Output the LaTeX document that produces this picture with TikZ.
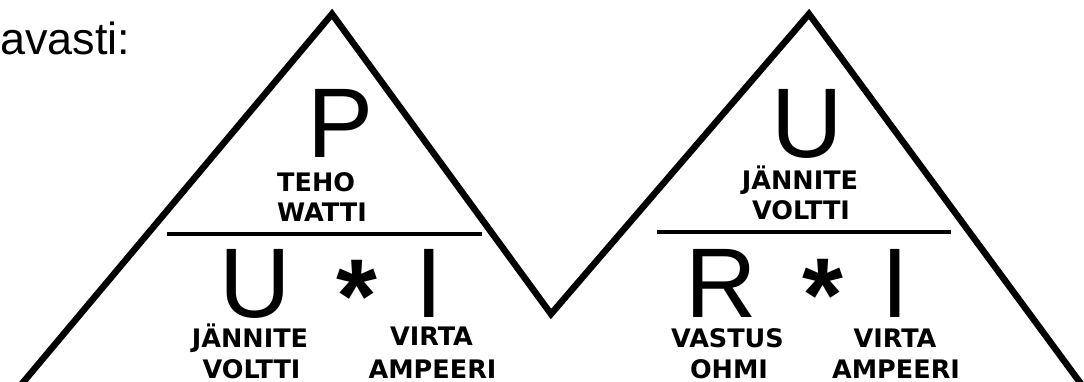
\documentclass[tikz,border=0pt]{standalone}
\usepackage{fontspec}
\setmainfont{Liberation Sans}
\newfontfamily\labfam{DejaVu Sans}
\begin{document}
\begin{tikzpicture}[x=1pt,y=-1pt,
  big/.style={font=\fontsize{99}{99}\selectfont, inner sep=0pt, anchor=base, text depth=0pt},
  star/.style={font=\bfseries\fontsize{105}{105}\selectfont, inner sep=0pt, anchor=base, text depth=0pt},
  lab/.style={font=\labfam\bfseries\fontsize{25.5}{30}\selectfont, inner sep=0pt, anchor=base, text depth=0pt, text height=18pt},
  zig/.style={line width=6.5pt, line join=miter, line cap=butt},
  bar/.style={line width=3.5pt}]
\useasboundingbox (0,0) rectangle (1084,382);
\fill[white] (0,0) rectangle (1084,382);

% partial heading
\node[font=\fontsize{45}{45}\selectfont, inner sep=0pt, anchor=base west] (head) at (0,55) {avasti:};

% zigzag outline
\coordinate (z0) at (15,392);
\coordinate (a1) at (332,14);
\coordinate (v1) at (551,314);
\coordinate (a2) at (809,14);
\coordinate (z1) at (1087,392);
\draw[zig] (z0) -- (a1) -- (v1) -- (a2) -- (z1);

% bars
\coordinate (b1l) at (167,234);
\coordinate (b1r) at (482,234);
\coordinate (b2l) at (657,232);
\coordinate (b2r) at (951,232);
\draw[bar] (b1l) -- (b1r);
\draw[bar] (b2l) -- (b2r);

% left triangle
\node[big] (P) at (340.5,158) {P};
\node[lab, anchor=base west] (teho) at (277,192) {TEHO};
\node[lab, anchor=base west] (watti) at (277,222) {WATTI};
\node[big] (U1) at (255,317) {U};
\node[star] (s1) at (357,332) {*};
\node[big] (I1) at (429.5,317) {I};
\node[lab] (jan1) at (250,347) {JÄNNITE};
\node[lab] (vol1) at (251.5,378) {VOLTTI};
\node[lab] (vir1) at (431.5,345) {VIRTA};
\node[lab] (amp1) at (432.5,378) {AMPEERI};

% right triangle
\node[big] (U2) at (807.5,158) {U};
\node[lab] (jan2) at (800,190) {JÄNNITE};
\node[lab] (vol2) at (801,220) {VOLTTI};
\node[big] (R) at (721,317) {R};
\node[star] (s2) at (823,331) {*};
\node[big] (I2) at (895,317) {I};
\node[lab] (vas) at (727.5,347) {VASTUS};
\node[lab] (ohm) at (729,378) {OHMI};
\node[lab] (vir2) at (895,347) {VIRTA};
\node[lab] (amp2) at (896,378) {AMPEERI};
\end{tikzpicture}
\end{document}
